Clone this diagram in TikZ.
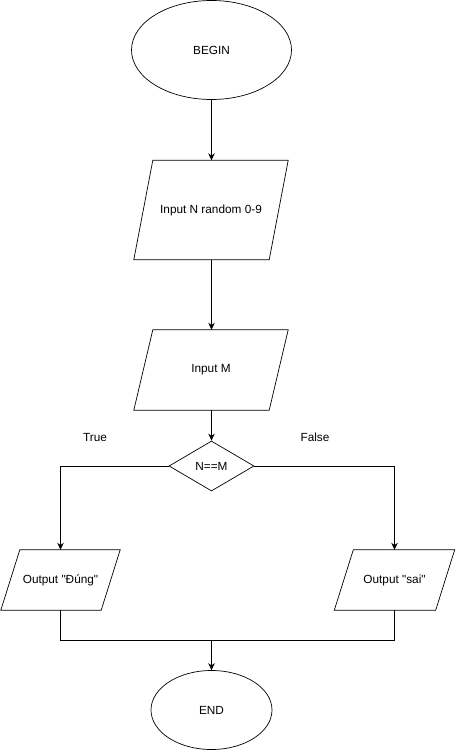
\documentclass[tikz,border=0pt]{standalone}
\usepackage{fontspec}
\setmainfont{Liberation Sans}[Ligatures=TeXOff]
\usetikzlibrary{shapes.geometric,arrows.meta,calc}
\begin{document}
\begin{tikzpicture}[x=1pt,y=-1pt,
  every node/.style={font=\fontsize{11.8}{13}\selectfont, inner sep=0pt},
  term/.style={ellipse, draw, line width=0.7pt},
  io/.style={draw=none, rectangle},
  dec/.style={diamond, draw, line width=0.7pt, aspect=1.7, minimum width=85pt, minimum height=50pt},
  line/.style={line width=0.8pt},
  arrow/.style={line, -{Stealth[length=7pt,width=6.5pt]}},
  pbox/.style={line width=0.7pt}]
\useasboundingbox (0,0) rectangle (455,751);
\fill[white] (0,0) rectangle (455,751);

\node[term, minimum width=160pt, minimum height=99pt] (begin) at (211.5,50) {BEGIN};

\node[io, minimum width=154pt, minimum height=99pt] (in1) at (211,210) {Input N random 0-9};
\draw[pbox] (in1.south west) -- ($(in1.north west)+(19,0)$) -- (in1.north east) -- ($(in1.south east)+(-19,0)$) -- cycle;

\node[io, minimum width=154pt, minimum height=80pt] (in2) at (211,370) {Input M};
\draw[pbox] (in2.south west) -- ($(in2.north west)+(19,0)$) -- (in2.north east) -- ($(in2.south east)+(-19,0)$) -- cycle;

\node[dec] (cmp) at (211.5,466) {N==M};

\node[io, minimum width=119pt, minimum height=60pt] (out1) at (60.5,580) {Output "Đúng"};
\draw[pbox] (out1.south west) -- ($(out1.north west)+(19,0)$) -- (out1.north east) -- ($(out1.south east)+(-19,0)$) -- cycle;

\node[io, minimum width=120pt, minimum height=60pt] (out2) at (394.5,580) {Output "sai"};
\draw[pbox] (out2.south west) -- ($(out2.north west)+(19,0)$) -- (out2.north east) -- ($(out2.south east)+(-19,0)$) -- cycle;

\node[term, minimum width=121pt, minimum height=79pt] (end) at (211.5,710) {END};

\node (tlab) at (95,437) {True};
\node (flab) at (315,437) {False};

\coordinate (join) at (211.5,640);

\draw[arrow] (begin) -- (in1.north -| begin);
\draw[arrow] (in1.south -| begin) -- (in2.north -| begin);
\draw[arrow] (in2.south -| begin) -- (cmp.north);
\draw[arrow] (cmp.west) -| (out1.north);
\draw[arrow] (cmp.east) -| (out2.north);
\draw[line] (out1.south) |- (join);
\draw[line] (out2.south) |- (join);
\draw[arrow] (join) -- (end.north);
\end{tikzpicture}
\end{document}
